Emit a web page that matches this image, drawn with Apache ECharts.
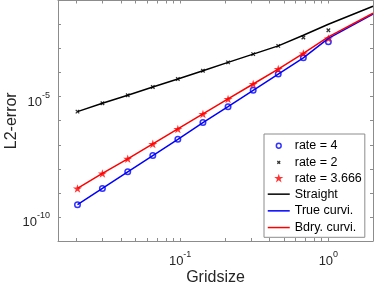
<!DOCTYPE html>
<html><head><meta charset="utf-8">
<script src="https://cdn.jsdelivr.net/npm/echarts@6/dist/echarts.min.js"></script>
<style>html,body{margin:0;padding:0;background:#fff}#c{width:374px;height:286px}</style>
</head><body><div id="c"></div>
<script>
// ---- data ----
const gridsize     = [0.0203, 0.0299, 0.0443, 0.0654, 0.0965, 0.1425, 0.2105, 0.311, 0.459, 0.678, 1.0];
const lineGridsize = [0.0203, 0.0299, 0.0443, 0.0654, 0.0965, 0.1425, 0.2105, 0.311, 0.459, 0.678, 1.0, 2.0];
const rate4Ref     = [3.24e-10, 1.53e-9, 7.55e-9, 3.58e-8, 1.70e-7, 8.36e-7, 3.85e-6, 1.84e-5, 8.73e-5, 4.14e-4, 1.91e-3];
const rate2Ref     = [2.39e-6, 5.32e-6, 1.14e-5, 2.52e-5, 5.42e-5, 1.20e-4, 2.67e-4, 5.89e-4, 1.30e-3, 2.90e-3, 5.82e-3];
const rate3666Ref  = [1.53e-9, 6.43e-9, 2.61e-8, 1.09e-7, 4.58e-7, 1.92e-6, 8.04e-6, 3.37e-5, 1.41e-4, 6.30e-4, 2.64e-3];
const straightErr  = [2.39e-6, 5.32e-6, 1.14e-5, 2.52e-5, 5.42e-5, 1.20e-4, 2.67e-4, 5.89e-4, 1.30e-3, 3.61e-3, 1.03e-2, 5.75e-2];
const trueCurviErr = [3.24e-10, 1.53e-9, 7.55e-9, 3.58e-8, 1.70e-7, 8.36e-7, 3.85e-6, 1.84e-5, 8.73e-5, 4.14e-4, 2.64e-3, 2.69e-2];
const bdryCurviErr = [1.53e-9, 6.43e-9, 2.61e-8, 1.09e-7, 4.58e-7, 1.92e-6, 8.04e-6, 3.37e-5, 1.41e-4, 6.30e-4, 3.08e-3, 2.95e-2];
const xTickValues  = [0.02,0.03,0.04,0.05,0.06,0.07,0.08,0.09,0.1,0.2,0.3,0.4,0.5,0.6,0.7,0.8,0.9,1,2];
const xLabelValues = [0.1, 1];
const yTickValues  = [1e-11,1e-10,1e-9,1e-8,1e-7,1e-6,1e-5,1e-4,1e-3,1e-2,1e-1];
const yLabelValues = [1e-10, 1e-5];
const legendNames  = ['rate = 4', 'rate = 2', 'rate = 3.666', 'Straight', 'True curvi.', 'Bdry. curvi.'];

const FONT = '"Liberation Sans", Arial, Helvetica, sans-serif';
const AX = '#8c8c8c';
const TXT = '#262626';
const zip = (xs, ys) => xs.map((x, i) => [x, ys[i]]);
const sup = v => '{b|10}{e|' + Math.round(Math.log10(v)) + '}';
const rich = {
  b: {fontSize: 13, fontFamily: FONT, color: TXT, padding: [5, 0, 0, 0]},
  e: {fontSize: 9, fontFamily: FONT, color: TXT, verticalAlign: 'top'}
};
const STAR = 'path://M50,0L61.23,34.55L97.55,34.55L68.17,55.9L79.39,90.45L50,69.1L20.61,90.45L31.83,55.9L2.45,34.55L38.77,34.55Z';
const XMARK = 'path://M0,0L10,10M10,0L0,10';

const chart = echarts.init(document.getElementById('c'), null, {renderer: 'canvas'});
const axisCommon = {
  axisLine: {show: true, lineStyle: {color: AX, width: 1}},
  splitLine: {show: false},
  minorTick: {show: false}
};
chart.setOption({
  animation: false,
  backgroundColor: '#fff',
  grid: {left: 58, right: 1, top: 0.5, bottom: 45, containLabel: false, outerBoundsMode: 'none'},
  xAxis: [
    Object.assign({}, axisCommon, {
      type: 'log', min: 0.015, max: 2, position: 'bottom',
      axisTick: {show: true, inside: true, length: 3, customValues: xTickValues, lineStyle: {color: AX}},
      axisLabel: {show: true, customValues: xLabelValues, formatter: sup, rich: rich, margin: 9},
      name: 'Gridsize', nameLocation: 'middle', nameGap: 29, nameMoveOverlap: false,
      nameTextStyle: {fontSize: 16, fontFamily: FONT, color: TXT}
    }),
    Object.assign({}, axisCommon, {
      type: 'log', min: 0.015, max: 2, position: 'top',
      axisTick: {show: true, inside: true, length: 3, customValues: xTickValues, lineStyle: {color: AX}},
      axisLabel: {show: false}
    })
  ],
  yAxis: [
    Object.assign({}, axisCommon, {
      type: 'log', min: 1e-11, max: 1e-1, position: 'left',
      axisTick: {show: true, inside: true, length: 3, customValues: yTickValues, lineStyle: {color: AX}},
      axisLabel: {show: true, customValues: yLabelValues, formatter: sup, rich: rich, margin: 8, padding: [6, 0, 0, 0]},
      name: 'L2-error', nameLocation: 'middle', nameGap: 38, nameMoveOverlap: false,
      nameTextStyle: {fontSize: 16, fontFamily: FONT, color: TXT}
    }),
    Object.assign({}, axisCommon, {
      type: 'log', min: 1e-11, max: 1e-1, position: 'right',
      axisTick: {show: true, inside: true, length: 3, customValues: yTickValues, lineStyle: {color: AX}},
      axisLabel: {show: false}
    })
  ],
  legend: {
    orient: 'vertical', left: 264, top: 134,
    padding: [4, 3, 2, 3], itemWidth: 22, itemHeight: 14, itemGap: 1.2,
    borderColor: AX, borderWidth: 1, backgroundColor: '#fff',
    selectedMode: false,
    textStyle: {fontSize: 12.5, fontFamily: FONT, color: '#000'},
    data: [
      {name: legendNames[0], icon: 'path://M0,0M22,14M13.4,7A2.4,2.4,0,1,1,8.6,7A2.4,2.4,0,1,1,13.4,7Z',
       itemStyle: {color: 'rgba(0,0,0,0)', borderColor: '#0000ff', borderWidth: 1.5}},
      {name: legendNames[1], icon: 'path://M0,0M22,14M9.6,5.6L12.4,8.4M12.4,5.6L9.6,8.4',
       itemStyle: {color: 'rgba(0,0,0,0)', borderColor: '#000', borderWidth: 1.3}},
      {name: legendNames[2], icon: 'path://M0,0M22,14M11,2.5L12.08,5.82L15.57,5.82L12.75,7.87L13.82,11.19L11,9.14L8.18,11.19L9.25,7.87L6.43,5.82L9.92,5.82Z',
       itemStyle: {color: '#ff0000', borderColor: '#ff0000', borderWidth: 0}},
      {name: legendNames[3], icon: 'path://M0,0M22,14M0,7L22,7',
       itemStyle: {color: 'rgba(0,0,0,0)', borderColor: '#000', borderWidth: 1.5}},
      {name: legendNames[4], icon: 'path://M0,0M22,14M0,7L22,7',
       itemStyle: {color: 'rgba(0,0,0,0)', borderColor: '#0000ff', borderWidth: 1.5}},
      {name: legendNames[5], icon: 'path://M0,0M22,14M0,7L22,7',
       itemStyle: {color: 'rgba(0,0,0,0)', borderColor: '#ff0000', borderWidth: 1.5}}
    ]
  },
  series: [
    {name: legendNames[3], type: 'line', data: zip(lineGridsize, straightErr), symbol: 'none',
     lineStyle: {color: '#000', width: 1.5}, itemStyle: {color: '#000'}, silent: true},
    {name: legendNames[4], type: 'line', data: zip(lineGridsize, trueCurviErr), symbol: 'none',
     lineStyle: {color: '#0000ff', width: 1.5}, itemStyle: {color: '#0000ff'}, silent: true},
    {name: legendNames[5], type: 'line', data: zip(lineGridsize, bdryCurviErr), symbol: 'none',
     lineStyle: {color: '#ff0000', width: 1.5}, itemStyle: {color: '#ff0000'}, silent: true},
    {name: legendNames[0], type: 'scatter', data: zip(gridsize, rate4Ref), symbol: 'circle', symbolSize: 5.5,
     itemStyle: {color: 'rgba(0,0,0,0)', borderColor: '#0000ff', borderWidth: 1.5}, silent: true},
    {name: legendNames[1], type: 'scatter', data: zip(gridsize, rate2Ref), symbol: XMARK, symbolSize: 3.5,
     itemStyle: {color: 'rgba(0,0,0,0)', borderColor: '#000', borderWidth: 1.3}, silent: true},
    {name: legendNames[2], type: 'scatter', data: zip(gridsize, rate3666Ref), symbol: STAR, symbolSize: 9,
     symbolKeepAspect: true, itemStyle: {color: '#ff0000'}, silent: true}
  ]
});
</script></body></html>
